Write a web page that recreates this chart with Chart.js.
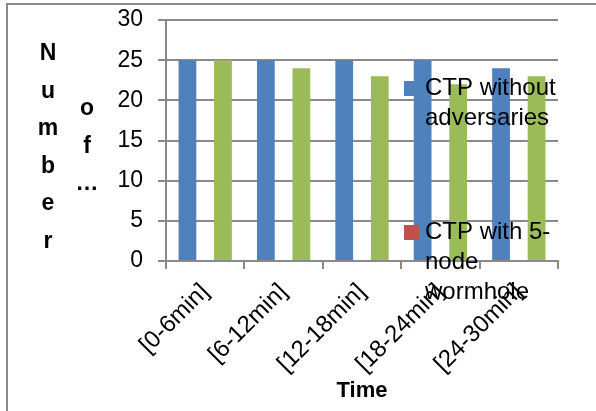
<!DOCTYPE html>
<html>
<head>
<meta charset="utf-8">
<script src="https://cdn.jsdelivr.net/npm/chart.js@4/dist/chart.umd.min.js"></script>
<style>
  html, body { margin: 0; padding: 0; background: #fff; overflow: hidden; }
  #wrap { position: relative; width: 596px; height: 411px; }
</style>
</head>
<body>
<div id="wrap"><canvas id="c" width="596" height="411"></canvas></div>
<script>
// data
var categories = ['[0-6min]', '[6-12min]', '[12-18min]', '[18-24min]', '[24-30min]'];
var withoutAdv = [25, 25, 25, 25, 24];
var wormhole5 = [null, null, null, null, null];   // in legend, no visible bars
var otherSeries = [25, 24, 23, 22, 23];            // green, cut off from legend
var seriesLabels = ['CTP without adversaries', 'CTP with 5-node wormhole', 'CTP with wormhole'];
var seriesColors = ['#4f81bd', '#c0504d', '#9bbb59'];
var yTicks = { min: 0, max: 30, step: 5 };

var FONT = "'Liberation Sans', Arial, sans-serif";
var GRID = '#8a8a8a';

// Excel-style outer frame (cut off at right/bottom)
var framePlugin = {
    id: 'frame',
    beforeDraw: function (chart) {
        var ctx = chart.ctx;
        ctx.save();
        ctx.strokeStyle = GRID;
        ctx.lineWidth = 2;
        ctx.strokeRect(7, 4, 800, 800);
        ctx.restore();
    }
};

// stacked-letter y title: "Number" in one column, "of ..." in the next
var yTitlePlugin = {
    id: 'yTitle',
    afterDraw: function (chart) {
        var ctx = chart.ctx;
        var cols = [{ x: 48, y: 60, chars: ['N', 'u', 'm', 'b', 'e', 'r'] },
                    { x: 87, y: 115, chars: ['o', 'f', '…'] }];
        ctx.save();
        ctx.fillStyle = '#000';
        ctx.font = 'bold 23px ' + FONT;
        ctx.textAlign = 'center';
        ctx.textBaseline = 'alphabetic';
        cols.forEach(function (col) {
            col.chars.forEach(function (ch, i) {
                ctx.fillText(ch, col.x, col.y + i * 37.6);
            });
        });
        ctx.restore();
    }
};

// legend drawn over the plot, wrapped like the original; third entry is clipped away
function wrapLabel(ctx, text, maxW) {
    var tokens = [];
    text.split(' ').forEach(function (w) {
        var parts = w.split(/(?<=-)/);
        parts.forEach(function (p, i) { tokens.push({ t: p, sp: i === 0 }); });
    });
    var lines = [];
    var cur = '';
    tokens.forEach(function (tk) {
        var cand = cur === '' ? tk.t : cur + (tk.sp ? ' ' : '') + tk.t;
        if (cur !== '' && ctx.measureText(cand).width > maxW) {
            lines.push(cur);
            cur = tk.t;
        } else {
            cur = cand;
        }
    });
    if (cur) lines.push(cur);
    return lines;
}

var legendPlugin = {
    id: 'overLegend',
    afterDraw: function (chart) {
        var ctx = chart.ctx;
        var itemY = [88, 232];
        ctx.save();
        ctx.font = '24px ' + FONT;
        ctx.textBaseline = 'middle';
        ctx.textAlign = 'left';
        itemY.forEach(function (y, i) {
            var ds = chart.data.datasets[i];
            ctx.fillStyle = ds.backgroundColor;
            ctx.fillRect(404, y - 7, 15, 15);
            ctx.fillStyle = '#000';
            wrapLabel(ctx, ds.label, 140).forEach(function (line, j) {
                ctx.fillText(line, 425, y + j * 30);
            });
        });
        ctx.restore();
    }
};

new Chart(document.getElementById('c'), {
    type: 'bar',
    data: {
        labels: categories,
        datasets: [
            { label: seriesLabels[0], data: withoutAdv, backgroundColor: seriesColors[0] },
            { label: seriesLabels[1], data: wormhole5, backgroundColor: seriesColors[1] },
            { label: seriesLabels[2], data: otherSeries, backgroundColor: seriesColors[2] }
        ]
    },
    options: {
        responsive: false,
        animation: false,
        devicePixelRatio: 1,
        layout: { autoPadding: false, padding: { left: 0, top: 20, right: 38, bottom: 0 } },
        datasets: { bar: { categoryPercentage: 0.68, barPercentage: 1.0, borderWidth: 0 } },
        plugins: { legend: { display: false }, tooltip: { enabled: false } },
        scales: {
            x: {
                afterFit: function (s) {
                    s.height = 150;
                    s.paddingTop = 0; s.paddingBottom = 0; s.paddingLeft = 0; s.paddingRight = 0;
                },
                grid: { drawOnChartArea: false, drawTicks: true, tickLength: 8, color: GRID, lineWidth: 2 },
                border: { color: GRID, width: 2 },
                ticks: {
                    minRotation: 45, maxRotation: 45, padding: 9,
                    color: '#000', font: { family: FONT, size: 24 }
                },
                title: {
                    display: true, text: 'Time', color: '#000',
                    font: { family: FONT, size: 22, weight: 'bold' },
                    padding: { top: 0, bottom: 7 }
                }
            },
            y: {
                min: yTicks.min, max: yTicks.max,
                afterFit: function (s) {
                    s.width = 166;
                    s.paddingTop = 0; s.paddingBottom = 0; s.paddingLeft = 0; s.paddingRight = 0;
                },
                grid: { color: GRID, lineWidth: 2, tickLength: 8 },
                border: { color: GRID, width: 2 },
                ticks: {
                    stepSize: yTicks.step, padding: 15,
                    color: '#000', font: { family: FONT, size: 23 }
                }
            }
        }
    },
    plugins: [framePlugin, yTitlePlugin, legendPlugin]
});
</script>
</body>
</html>
